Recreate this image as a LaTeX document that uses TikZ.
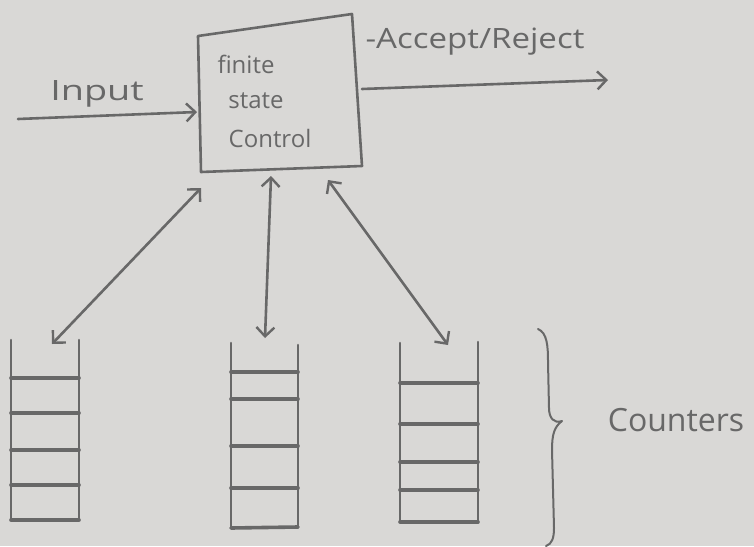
\documentclass[tikz,border=0pt]{standalone}
\usepackage{fontspec}
\setmainfont{Open Sans}
\usetikzlibrary{arrows.meta}
\definecolor{paper}{HTML}{D9D8D6}
\definecolor{pencil}{HTML}{686868}
\begin{document}
\begin{tikzpicture}[x=1pt,y=-1pt,
  pen/.style={draw=pencil,line width=2.6pt,line cap=round,line join=round},
  rung/.style={draw=pencil,line width=3.6pt,line cap=round},
  tipend/.style={-{Straight Barb[length=9pt,width=18pt,line width=2.4pt]}},
  tipboth/.style={{Straight Barb[length=9pt,width=18pt,line width=2.4pt]}-{Straight Barb[length=9pt,width=18pt,line width=2.4pt]}},
  lbl/.style={text=pencil,inner sep=0pt,font=\fontsize{24}{28}\selectfont},
  sidelbl/.style={text=pencil,inner sep=0pt,font=\fontsize{28}{32}\selectfont},
  biglbl/.style={text=pencil,inner sep=0pt,font=\fontsize{32}{38}\selectfont}]
\fill[paper] (0,0) rectangle (754,546);
\useasboundingbox (0,0) rectangle (754,546);
% finite state control box
\coordinate (tl) at (198,36);
\coordinate (tr) at (352,14);
\coordinate (br) at (362,166);
\coordinate (bl) at (201,172);
\draw[pen] (tl) -- (tr) -- (br) -- (bl) -- cycle;
\node[lbl] (t1) at (246,64) {finite};
\node[lbl] (t2) at (256,101) {state};
\node[lbl] (t3) at (270,138) {Control};
% input
\coordinate (inS) at (18,119);
\coordinate (inE) at (197,112);
\draw[pen,tipend] (inS) -- (inE);
\node[sidelbl,xscale=1.35] (inL) at (97,94) {Input};
% accept/reject
\coordinate (acS) at (362,89);
\coordinate (acE) at (608,80);
\draw[pen,tipend] (acS) -- (acE);
\node[sidelbl,xscale=1.18] (acL) at (475,42) {-Accept/Reject};
% stacks
\draw[pen] (11,340) -- (11,520) -- (79,520) -- (79,340);
\foreach \y in {378,413,450,485} \draw[rung] (11,\y) -- (79,\y);
\draw[rung] (11,520) -- (79,520);
\draw[pen] (231,343) -- (231,528) -- (298,528) -- (298,345);
\foreach \y in {372,399,446,488} \draw[rung] (231,\y) -- (298,\y);
\draw[rung] (231,528) -- (298,527);
\draw[pen] (400,343) -- (400,522) -- (478,522) -- (478,342);
\foreach \y in {383,424,462,490} \draw[rung] (400,\y) -- (478,\y);
\draw[rung] (400,522) -- (478,522);
% double arrows
\coordinate (a1s) at (201,188);
\coordinate (a1e) at (52,344);
\coordinate (a2s) at (271,176);
\coordinate (a2e) at (265,338);
\coordinate (a3s) at (328,180);
\coordinate (a3e) at (448,345);
\draw[pen,tipboth] (a1s) -- (a1e);
\draw[pen,tipboth] (a2s) -- (a2e);
\draw[pen,tipboth] (a3s) -- (a3e);
% brace
\draw[pen,line width=2pt] (538,329) .. controls (547,333) and (548,345) .. (548,362)
  -- (549,408) .. controls (549,418) and (554,424) .. (562,421)
  .. controls (554,427) and (552,435) .. (552,450)
  -- (554,528) .. controls (554,538) and (552,544) .. (546,546);
\node[biglbl] (cnt) at (676,420) {Counters};
\end{tikzpicture}
\end{document}
